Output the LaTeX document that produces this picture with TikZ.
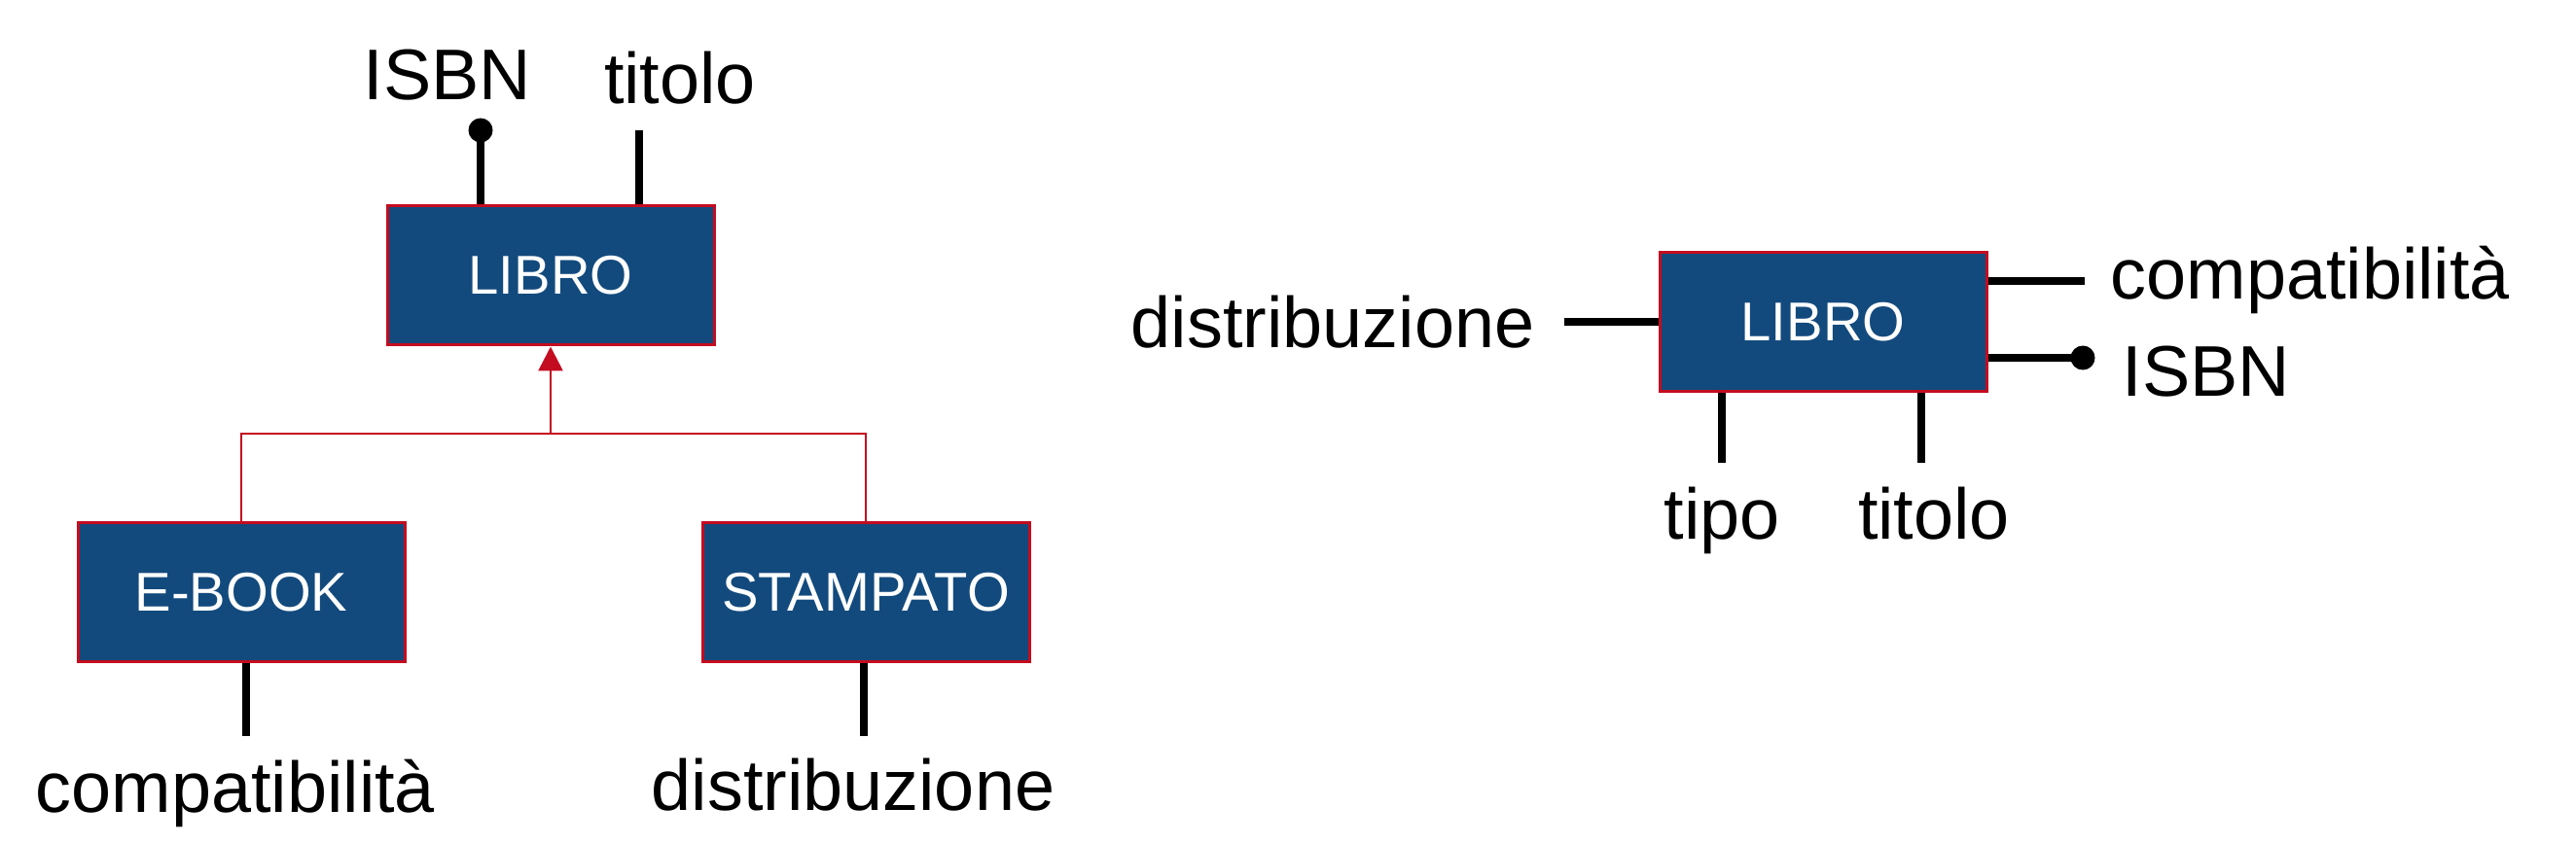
\documentclass[tikz,border=0pt]{standalone}
\usepackage{fontspec}
\setmainfont{Liberation Sans}
\usetikzlibrary{arrows.meta}

\definecolor{entblue}{RGB}{19,74,125}
\definecolor{entred}{RGB}{196,12,32}

\tikzset{
    entity/.style={draw=entred, line width=0.03cm, fill=entblue, text=white,
        minimum width=3.36cm, minimum height=1.43cm, inner sep=0pt,
        font=\fontsize{16}{19}\selectfont},
    attr/.style={font=\fontsize{21}{25}\selectfont, inner sep=0pt},
    attrline/.style={line width=0.08cm},
    isa/.style={draw=entred, line width=0.027cm}
}

\begin{document}
\begin{tikzpicture}[x=1cm, y=1cm]
                \useasboundingbox (0,0) rectangle (26.48,8.66);
                % gerarchia
                \node[entity] (libro) at (5.66,5.825) {LIBRO};
                \node[entity] (ebook) at (2.48,2.57) {E-BOOK};
                \node[entity] (stampato) at (8.90,2.565) {STAMPATO};
                \coordinate (split) at (5.66,4.20);
                \draw[isa] (ebook.north) |- (split) -| (stampato.north);
                \draw[isa, -{Triangle[length=0.25cm, width=0.25cm]}] (split) -- (libro.south);
                \coordinate (isbnA) at (4.94,7.32);
                \coordinate (titoloA) at (6.57,7.32);
                \coordinate (compA) at (2.53,1.09);
                \coordinate (distrA) at (8.88,1.09);
                \foreach \point/\anc in {isbnA/libro.north, titoloA/libro.north, compA/ebook.south, distrA/stampato.south}
                    \draw[attrline] (\point) -- (\point |- \anc);
                \fill (isbnA) circle (0.125);
                \node[attr, anchor=base] (isbn) at (4.60,7.63) {ISBN};
                \node[attr, anchor=base] (titolo) at (6.99,7.59) {titolo};
                \node[attr, anchor=base] (comp) at (2.42,0.31) {compatibilità};
                \node[attr, anchor=base] (distr) at (8.77,0.33) {distribuzione};
                % ristrutturato
                \node[entity] (libroR) at (18.74,5.35) {LIBRO};
                \coordinate (distrB) at (16.08,5.35);
                \coordinate (compB) at (21.43,5.77);
                \coordinate (isbnB) at (21.41,4.98);
                \coordinate (tipoB) at (17.70,3.90);
                \coordinate (titoloB) at (19.75,3.90);
                \draw[attrline] (distrB) -- (libroR.west);
                \foreach \point in {compB, isbnB}
                    \draw[attrline] (\point) -- (\point -| libroR.east);
                \foreach \point in {tipoB, titoloB}
                    \draw[attrline] (\point) -- (\point |- libroR.south);
                \fill (isbnB) circle (0.125);
                \node[attr, anchor=base east] (distrR) at (15.78,5.08) {distribuzione};
                \node[attr, anchor=base west] (compR) at (21.69,5.58) {compatibilità};
                \node[attr, anchor=base west] (isbnR) at (21.81,4.58) {ISBN};
                \node[attr, anchor=base] (tipoR) at (17.70,3.11) {tipo};
                \node[attr, anchor=base] (titoloR) at (19.88,3.11) {titolo};
            \end{tikzpicture}
\end{document}
